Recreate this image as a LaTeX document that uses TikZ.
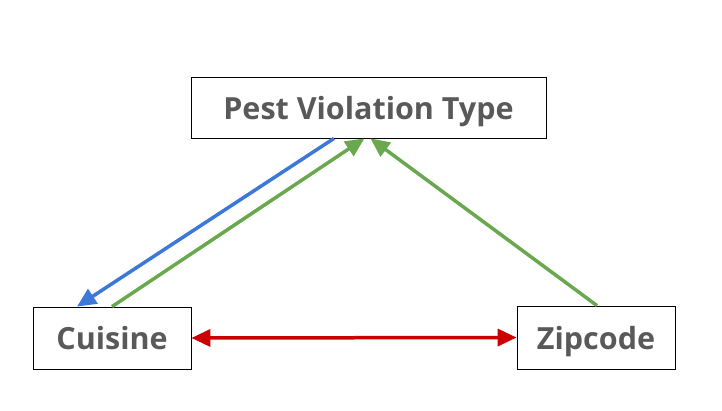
\documentclass[tikz,border=0pt]{standalone}
\usepackage{fontspec}
\setmainfont{Open Sans}
\usetikzlibrary{arrows.meta}
\definecolor{txtgrey}{HTML}{595959}
\definecolor{arrblue}{HTML}{3C78D8}
\definecolor{arrgreen}{HTML}{6AA84F}
\definecolor{arrred}{HTML}{CC0000}
\begin{document}
\begin{tikzpicture}[x=1pt,y=-1pt]
\useasboundingbox (0,0) rectangle (722,411);
\begin{scope}[every node/.style={draw,thick,rectangle,inner sep=0pt,text depth=0pt,text=txtgrey,font=\fontsize{30.5}{33}\selectfont\bfseries}]
    \node[minimum width=355pt,minimum height=61pt] (pest) at (368.5,107.5) {Pest Violation Type};
    \node[minimum width=158pt,minimum height=62pt] (cuisine) at (112,338) {Cuisine};
    \node[minimum width=158pt,minimum height=63pt] (zip) at (596,337.5) {Zipcode};
\end{scope}

\begin{scope}[line width=3.5pt,-{Triangle[length=19pt,width=17pt]}]
\draw[arrblue] ([xshift=-34.5pt]pest.south) -- ([xshift=-35pt]cuisine.north);
\draw[arrgreen] (cuisine.north) -- ([xshift=-4pt]pest.south);
\draw[arrgreen] ([xshift=1pt]zip.north) -- ([xshift=2pt]pest.south);
\draw[arrred,{Triangle[length=19pt,width=17pt]}-{Triangle[length=19pt,width=17pt]}] (cuisine.east) -- (zip.west);
\end{scope}
\end{tikzpicture}
\end{document}
